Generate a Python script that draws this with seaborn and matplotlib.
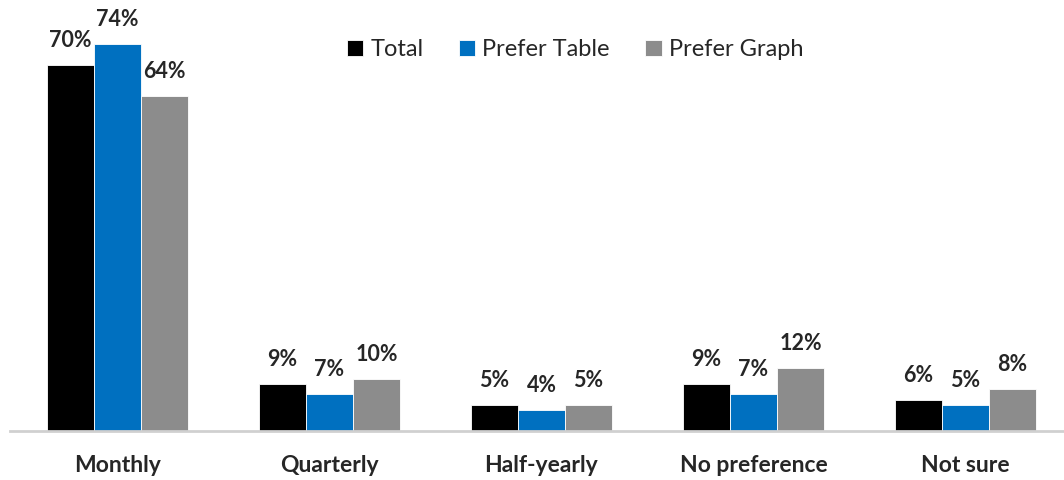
import pandas as pd
import numpy as np
import seaborn as sns
import matplotlib.pyplot as plt

categories = ['Monthly', 'Quarterly', 'Half-yearly', 'No preference', 'Not sure']
series = ['Total', 'Prefer Table', 'Prefer Graph']
total = [70, 9, 5, 9, 6]
prefer_table = [74, 7, 4, 7, 5]
prefer_graph = [64, 10, 5, 12, 8]
colors = ['#000000', '#0070C0', '#8C8C8C']

df = pd.DataFrame({
    'category': categories * 3,
    'group': [s for s in series for _ in categories],
    'value': total + prefer_table + prefer_graph,
})

sns.set_style('white')
plt.rcParams['font.family'] = ['Lato', 'DejaVu Sans']

fig = plt.figure(figsize=(10.64, 4.8), dpi=100)
ax = fig.add_axes([10/1064, 49/480, 1 - 10/1064, 431/480])

sns.barplot(data=df, x='category', y='value', hue='group', order=categories,
            hue_order=series, palette=colors, width=0.665, gap=0,
            linewidth=0.6, edgecolor='white', saturation=1, ax=ax)

for cont in ax.containers:
    ax.bar_label(cont, labels=[f'{v:.0f}%' for v in cont.datavalues],
                 padding=10, fontsize=15.5, fontweight='bold')

ax.set_ylim(0, 82.4)
ax.set_xlim(-0.507, 4.465)
ax.set_yticks([])
ax.set_xlabel('')
ax.set_ylabel('')
for s in ['top', 'right', 'left']:
    ax.spines[s].set_visible(False)
ax.spines['bottom'].set_color('#D0D0D0')
ax.spines['bottom'].set_linewidth(2)
ax.tick_params(axis='x', length=0, pad=17, labelsize=16.5)
for t in ax.get_xticklabels():
    t.set_fontweight('bold')

ax.legend(loc='center', bbox_to_anchor=(0.536, 0.885), ncol=3, frameon=False,
          fontsize=17, handlelength=0.7, handleheight=0.7,
          handletextpad=0.3, columnspacing=1.5)

fig.savefig('out.png', dpi=100)
